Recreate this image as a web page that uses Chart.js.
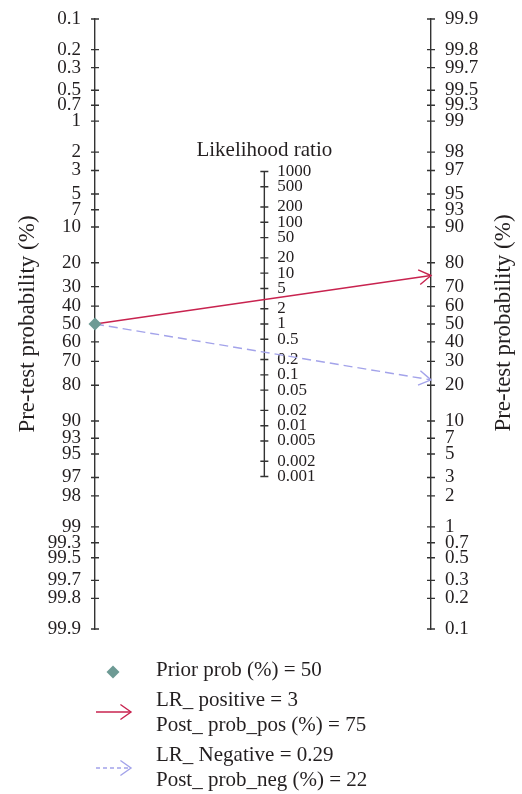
<!DOCTYPE html>
<html lang="en">
<head>
<meta charset="UTF-8">
<title>Fagan nomogram</title>
<script src="https://cdn.jsdelivr.net/npm/chart.js"></script>
<style>
  body { margin: 0; background: #fff; }
</style>
</head>
<body>
<canvas id="myChart" width="522" height="794"></canvas>
<script>
// tick values on the probability scales (left: pre-test, right: post-test)
const probTicks = [0.1, 0.2, 0.3, 0.5, 0.7, 1, 2, 3, 5, 7, 10, 20, 30, 40, 50, 60, 70, 80, 90, 93, 95, 97, 98, 99, 99.3, 99.5, 99.7, 99.8, 99.9];
// tick values on the likelihood ratio scale
const lrTicks = [1000, 500, 200, 100, 50, 20, 10, 5, 2, 1, 0.5, 0.2, 0.1, 0.05, 0.02, 0.01, 0.005, 0.002, 0.001];

const priorProb = 50;
const lrPositive = 3;
const postProbPos = 75;
const lrNegative = 0.29;
const postProbNeg = 22;

const serif = "'Liberation Serif', 'DejaVu Serif', serif";
const textColor = '#231f20';
const axisColor = '#333';
const priorColor = '#6d9a94';
const posColor = '#c8234f';
const negColor = '#a3a3ea';
const midX = 0.504;   // where the LR axis sits between the two probability axes

const logit = p => Math.log(p / (100 - p));
const L = logit(99.9);

function drawArrowHead(ctx, x1, y1, x2, y2, color, len, ang) {
    const a = Math.atan2(y2 - y1, x2 - x1);
    ctx.save();
    ctx.setLineDash([]);
    ctx.strokeStyle = color;
    ctx.lineWidth = 1.4;
    ctx.beginPath();
    ctx.moveTo(x2 - len * Math.cos(a - ang), y2 - len * Math.sin(a - ang));
    ctx.lineTo(x2, y2);
    ctx.lineTo(x2 - len * Math.cos(a + ang), y2 - len * Math.sin(a + ang));
    ctx.stroke();
    ctx.restore();
}

// tick crosses, middle axis, titles, arrow heads and the legend
const nomoPlugin = {
    id: 'nomo',
    beforeDatasetsDraw(chart) {
        const ctx = chart.ctx;
        const {x, yL, yR, yM} = chart.scales;
        const xl = x.getPixelForValue(0), xr = x.getPixelForValue(1), xm = x.getPixelForValue(midX);
        ctx.save();
        ctx.strokeStyle = axisColor;
        ctx.lineWidth = 1.4;
        ctx.beginPath();
        probTicks.forEach(p => {
            const py = yL.getPixelForValue(logit(p));
            ctx.moveTo(xl - 4, py); ctx.lineTo(xl + 4, py);
            const qy = yR.getPixelForValue(logit(p));
            ctx.moveTo(xr - 4, qy); ctx.lineTo(xr + 4, qy);
        });
        // LR axis
        ctx.moveTo(xm, yM.getPixelForValue(Math.log(lrTicks[0])));
        ctx.lineTo(xm, yM.getPixelForValue(Math.log(lrTicks[lrTicks.length - 1])));
        lrTicks.forEach(v => {
            const py = yM.getPixelForValue(Math.log(v));
            ctx.moveTo(xm - 4, py); ctx.lineTo(xm + 4, py);
        });
        ctx.stroke();

        ctx.fillStyle = textColor;
        ctx.font = '17px ' + serif;
        ctx.textAlign = 'left';
        ctx.textBaseline = 'middle';
        lrTicks.forEach(v => {
            ctx.fillText(String(v), xm + 13, yM.getPixelForValue(Math.log(v)));
        });

        ctx.font = '21px ' + serif;
        ctx.textAlign = 'center';
        ctx.textBaseline = 'alphabetic';
        ctx.fillText('Likelihood ratio', xm, 156);

        // right title reads bottom to top like the left one
        ctx.translate(504, 323);
        ctx.rotate(-Math.PI / 2);
        ctx.font = '23px ' + serif;
        ctx.textBaseline = 'middle';
        ctx.fillText('Pre-test probability (%)', 0, 0);
        ctx.restore();
    },
    afterDatasetsDraw(chart) {
        const ctx = chart.ctx;
        chart.data.datasets.forEach((ds, i) => {
            if (!ds.arrowHead) return;
            const pts = chart.getDatasetMeta(i).data;
            const a = pts[pts.length - 2], b = pts[pts.length - 1];
            drawArrowHead(ctx, a.x, a.y, b.x, b.y, ds.borderColor, 14, 0.55);
        });
    },
    afterDraw(chart) {
        const ctx = chart.ctx;
        ctx.save();
        // prior marker
        ctx.fillStyle = priorColor;
        ctx.beginPath();
        ctx.moveTo(113, 665.5); ctx.lineTo(119.5, 672); ctx.lineTo(113, 678.5); ctx.lineTo(106.5, 672);
        ctx.closePath();
        ctx.fill();
        // positive arrow
        ctx.strokeStyle = posColor;
        ctx.lineWidth = 1.4;
        ctx.beginPath(); ctx.moveTo(96, 712); ctx.lineTo(131, 712); ctx.stroke();
        drawArrowHead(ctx, 96, 712, 131, 712, posColor, 13, 0.62);
        // negative arrow
        ctx.strokeStyle = negColor;
        ctx.setLineDash([4, 3]);
        ctx.beginPath(); ctx.moveTo(96, 768); ctx.lineTo(131, 768); ctx.stroke();
        ctx.setLineDash([]);
        drawArrowHead(ctx, 96, 768, 131, 768, negColor, 13, 0.62);

        ctx.fillStyle = textColor;
        ctx.font = '21px ' + serif;
        ctx.textAlign = 'left';
        ctx.textBaseline = 'alphabetic';
        ctx.fillText('Prior prob (%) = ' + priorProb, 156, 676);
        ctx.fillText('LR_ positive = ' + lrPositive, 156, 705.5);
        ctx.fillText('Post_ prob_pos (%) = ' + postProbPos, 156, 730.5);
        ctx.fillText('LR_ Negative = ' + lrNegative, 156, 760.5);
        ctx.fillText('Post_ prob_neg (%) = ' + postProbNeg, 156, 786);
        ctx.restore();
    }
};

const probAxis = (position, reverse, width) => ({
    type: 'linear',
    position: position,
    reverse: reverse,
    min: -L,
    max: L,
    afterBuildTicks: s => { s.ticks = probTicks.map(p => ({ value: logit(p) })); },
    afterFit: s => { s.width = width; },
    ticks: {
        autoSkip: false,
        padding: 0,
        color: textColor,
        font: { family: serif, size: 19 },
        callback: (v, i) => String(probTicks[i])
    },
    // grid hidden; tickLength only sets the gap between axis and labels
    grid: { display: false, drawTicks: true, tickLength: 14 },
    border: { display: true, color: axisColor, width: 1.4 }
});

const yLeft = probAxis('left', true, 95);
yLeft.title = {
    display: true,
    text: 'Pre-test probability (%)',
    color: textColor,
    font: { family: serif, size: 23 },
    padding: { top: 14, bottom: 0 }
};

const ctx = document.querySelector('#myChart');
const nomoChart = new Chart(ctx, {
    type: 'scatter',
    data: {
        datasets: [
            {
                label: 'Prior prob',
                yAxisID: 'yL',
                data: [{ x: 0, y: logit(priorProb) }],
                pointStyle: 'rectRot',
                pointRadius: 6.5,
                backgroundColor: priorColor,
                borderColor: priorColor,
                borderWidth: 0,
                clip: false
            },
            {
                label: 'LR positive',
                yAxisID: 'yR',
                data: [{ x: 0, y: -logit(priorProb) }, { x: 1, y: logit(postProbPos) }],
                showLine: true,
                borderColor: posColor,
                borderWidth: 1.4,
                pointRadius: 0,
                arrowHead: true,
                clip: false
            },
            {
                label: 'LR negative',
                yAxisID: 'yR',
                data: [{ x: 0, y: -logit(priorProb) }, { x: 1, y: logit(postProbNeg) }],
                showLine: true,
                borderColor: negColor,
                borderWidth: 1.4,
                borderDash: [9, 5],
                pointRadius: 0,
                arrowHead: true,
                clip: false
            }
        ]
    },
    options: {
        responsive: false,
        animation: false,
        layout: { padding: { left: 0, right: 0, top: 19, bottom: 165 } },
        plugins: { legend: { display: false }, tooltip: { enabled: false } },
        scales: {
            x: { type: 'linear', min: 0, max: 1, display: false },
            yL: yLeft,
            yR: probAxis('right', false, 91),
            yM: { type: 'linear', display: false, min: -2 * L, max: 2 * L }
        }
    },
    plugins: [nomoPlugin]
});
</script>
</body>
</html>
